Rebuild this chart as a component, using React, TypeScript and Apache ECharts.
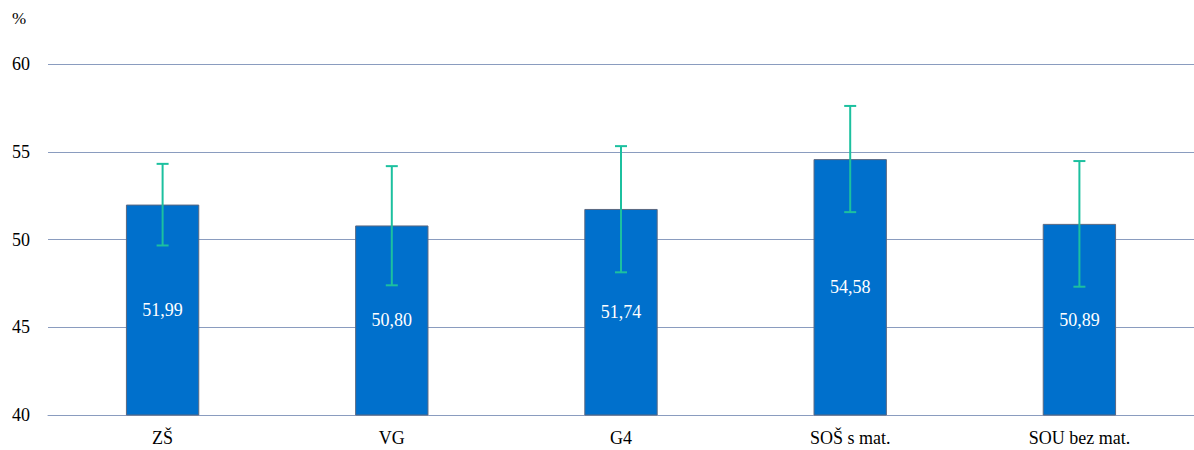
import React, { useEffect, useRef } from "react";
import * as echarts from "echarts";

const categories = ["ZŠ", "VG", "G4", "SOŠ s mat.", "SOU bez mat."];
const values = [51.99, 50.8, 51.74, 54.58, 50.89];
const lower = [49.66, 47.39, 48.13, 51.56, 47.31];
const upper = [54.31, 54.18, 55.32, 57.61, 54.47];
const yTicks = [40, 45, 50, 55, 60];

const FONT = "Times New Roman";

export default function App() {
  const ref = useRef<HTMLDivElement>(null);
  useEffect(() => {
    if (!ref.current) return;
    const chart = echarts.init(ref.current, undefined, { renderer: "svg" });
    chart.setOption({
      animation: false,
      textStyle: { fontFamily: FONT },
      grid: { left: 48, right: 0, top: 64, bottom: 35 },
      graphic: [
        {
          type: "text",
          left: 12,
          top: 10,
          style: { text: "%", fontFamily: FONT, fontSize: 17, fill: "#000" },
        },
      ],
      xAxis: {
        type: "category",
        data: categories,
        axisLine: { show: true, lineStyle: { color: "#8a9cbf", width: 1 } },
        axisTick: { show: false },
        axisLabel: { color: "#000", fontFamily: FONT, fontSize: 18, margin: 14 },
      },
      yAxis: {
        type: "value",
        min: yTicks[0],
        max: yTicks[yTicks.length - 1],
        interval: 5,
        axisLine: { show: false },
        axisTick: { show: false },
        axisLabel: { color: "#000", fontFamily: FONT, fontSize: 18, margin: 18 },
        splitLine: { lineStyle: { color: "#8a9cbf", width: 1 } },
      },
      series: [
        {
          type: "bar",
          data: values,
          barWidth: "32%",
          itemStyle: { color: "#0070cc", borderColor: "#5b6880", borderWidth: 1 },
          label: {
            show: true,
            position: "inside",
            color: "#fff",
            fontFamily: FONT,
            fontSize: 18,
            formatter: (p: any) => Number(p.value).toFixed(2).replace(".", ","),
          },
        },
        {
          type: "custom",
          data: categories.map((_, i) => [i, lower[i], upper[i]]),
          z: 10,
          renderItem: (params: any, api: any) => {
            const idx = api.value(0);
            const lo = api.coord([idx, api.value(1)]);
            const hi = api.coord([idx, api.value(2)]);
            const cap = 6;
            const style = { stroke: "#1cc09f", lineWidth: 2 };
            return {
              type: "group",
              children: [
                { type: "line", shape: { x1: hi[0], y1: hi[1], x2: lo[0], y2: lo[1] }, style },
                { type: "line", shape: { x1: hi[0] - cap, y1: hi[1], x2: hi[0] + cap, y2: hi[1] }, style },
                { type: "line", shape: { x1: lo[0] - cap, y1: lo[1], x2: lo[0] + cap, y2: lo[1] }, style },
              ],
            };
          },
        },
      ],
    });
    return () => chart.dispose();
  }, []);
  return (
    <div
      ref={ref}
      style={{ position: "fixed", left: 0, top: 0, width: 1194, height: 450, background: "#fff" }}
    />
  );
}
